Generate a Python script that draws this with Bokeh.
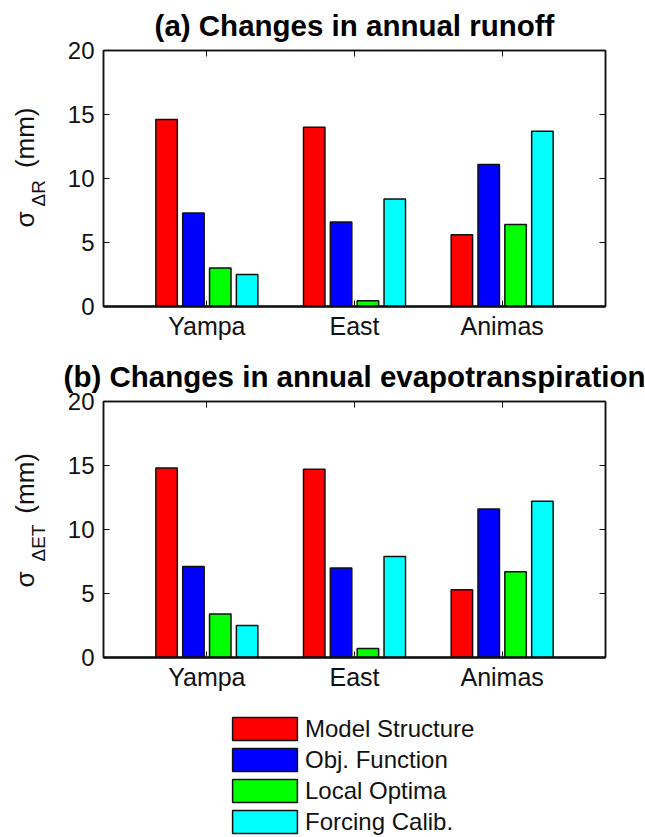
from bokeh.embed import file_html
from bokeh.layouts import column
from bokeh.models import FixedTicker, Legend, LegendItem, LinearAxis, Range1d, Title
from bokeh.plotting import figure
from bokeh.resources import INLINE

# Basins and uncertainty sources
basins = ["Yampa", "East", "Animas"]
sources = ["Model Structure", "Obj. Function", "Local Optima", "Forcing Calib."]
colors = ["#FF0000", "#0000FF", "#00FF00", "#00FFFF"]
y_ticks = [0, 5, 10, 15, 20]

# (a) standard deviation of change in annual runoff (mm)
runoff_model_structure = [14.6, 14.0, 5.6]
runoff_obj_function = [7.3, 6.6, 11.1]
runoff_local_optima = [3.0, 0.45, 6.4]
runoff_forcing_calib = [2.5, 8.4, 13.7]

# (b) standard deviation of change in annual evapotranspiration (mm)
et_model_structure = [14.8, 14.7, 5.3]
et_obj_function = [7.1, 7.0, 11.6]
et_local_optima = [3.4, 0.7, 6.7]
et_forcing_calib = [2.5, 7.9, 12.2]

FONT = "Liberation Sans"
INK = "#111111"
NBSP = "\u00a0"

X_MIN, X_MAX = 0.3, 3.7
Y_MIN, Y_MAX = 0, 20
FRAME_W, FRAME_H = 502, 256
BORDER_L, BORDER_R = 103, 40

# grouped-bar geometry (4 bars per group)
n_series = len(sources)
group_w = min(0.8, n_series / (n_series + 1.5))
bar_step = group_w / n_series
bar_w = 0.8 * bar_step
offsets = [(k - (n_series - 1) / 2) * bar_step for k in range(n_series)]
group_x = list(range(1, len(basins) + 1))


def add_bars(p, series, **kw):
    rs = []
    for k, vals in enumerate(series):
        xs = [g + offsets[k] for g in group_x]
        rs.append(p.vbar(x=xs, top=vals, bottom=0, width=bar_w,
                         fill_color=colors[k], line_color=INK, line_width=1.5, **kw))
    return rs


def make_panel(title, series, sub, border_top, border_bottom, title_gap, ylab):
    p = figure(
        frame_width=FRAME_W, frame_height=FRAME_H,
        min_border_left=BORDER_L, min_border_right=BORDER_R,
        min_border_top=border_top, min_border_bottom=border_bottom,
        x_range=Range1d(X_MIN, X_MAX), y_range=Range1d(Y_MIN, Y_MAX),
        output_backend="svg", toolbar_location=None,
    )
    p.background_fill_color = "white"
    p.border_fill_color = "white"
    p.xgrid.visible = False
    p.ygrid.visible = False
    p.outline_line_color = INK
    p.outline_line_width = 1.5

    p.title.text = title
    p.title.align = "center"
    p.title.vertical_align = "top"
    p.title.text_font = FONT
    p.title.text_font_size = "29.5px"
    p.title.text_font_style = "bold"
    p.title.text_color = "black"
    p.title.standoff = title_gap

    xt = FixedTicker(ticks=group_x)
    yt = FixedTicker(ticks=y_ticks)

    xa = p.xaxis[0]
    xa.ticker = xt
    xa.major_label_overrides = {i: b for i, b in zip(group_x, basins)}
    ya = p.yaxis[0]
    ya.ticker = yt
    for ax in (xa, ya):
        ax.major_tick_in = 6
        ax.major_tick_out = 0
        ax.minor_tick_line_color = None
        ax.major_tick_line_color = INK
        ax.axis_line_color = INK
        ax.axis_line_width = 1.5
        ax.major_label_text_font = FONT
        ax.major_label_text_color = INK
    xa.major_label_text_font_size = "25px"
    ya.major_label_text_font_size = "24px"
    xa.axis_line_width = 2.5
    xa.major_label_standoff = 5
    ya.major_label_standoff = 9

    # box ticks on top and right, no labels
    top_ax = LinearAxis(ticker=xt, major_label_overrides={i: "" for i in group_x})
    right_ax = LinearAxis(ticker=yt, major_label_overrides={v: "" for v in y_ticks})
    for ax in (top_ax, right_ax):
        ax.major_tick_in = 6
        ax.major_tick_out = 0
        ax.minor_tick_line_color = None
        ax.major_tick_line_color = INK
        ax.axis_line_color = INK
        ax.axis_line_width = 1.5
        ax.major_label_standoff = 0
    p.add_layout(top_ax, "above")
    p.add_layout(right_ax, "right")

    add_bars(p, series)

    # y-axis label: subscript column next to the ticks, then sigma + units
    gap, off_sigma, off_sub = ylab
    p.add_layout(Title(text=sub, align="left", offset=off_sub, standoff=32,
                       text_font=FONT, text_font_size="19px",
                       text_font_style="normal", text_color=INK), "left")
    p.add_layout(Title(text="σ" + NBSP * gap + "(mm)", align="left", offset=off_sigma,
                       standoff=-61, text_font=FONT, text_font_size="26px",
                       text_font_style="normal", text_color=INK), "left")
    return p


runoff_series = [runoff_model_structure, runoff_obj_function,
                 runoff_local_optima, runoff_forcing_calib]
et_series = [et_model_structure, et_obj_function, et_local_optima, et_forcing_calib]

p_a = make_panel("(a) Changes in annual runoff", runoff_series,
                 "ΔR", 50, 46, 14, (6, 79, 100))
p_b = make_panel("(b) Changes in annual evapotranspiration", et_series,
                 "ΔET", 49, 47, 13, (8, 70, 96))

# legend strip: hidden copies of the (b) bars supply the swatches
p_leg = figure(
    frame_width=FRAME_W, frame_height=133,
    min_border_left=BORDER_L, min_border_right=BORDER_R,
    min_border_top=0, min_border_bottom=0,
    x_range=Range1d(X_MIN, X_MAX), y_range=Range1d(Y_MIN, Y_MAX),
    x_axis_location=None, y_axis_location=None,
    output_backend="svg", toolbar_location=None,
)
p_leg.xgrid.visible = False
p_leg.ygrid.visible = False
p_leg.outline_line_color = None
swatches = add_bars(p_leg, et_series, visible=False)
legend = Legend(
    items=[LegendItem(label=s, renderers=[r]) for s, r in zip(sources, swatches)],
    location=(121, 1), orientation="vertical",
    glyph_width=81, glyph_height=29, spacing=2, label_standoff=0,
    label_text_font=FONT, label_text_font_size="24px", label_text_color=INK,
    border_line_color=None, background_fill_alpha=0, margin=0, padding=0,
    inactive_fill_alpha=0,
)
p_leg.add_layout(legend)

layout = column(p_a, p_b, p_leg, spacing=0)

with open("out.html", "w") as f:
    f.write(file_html(layout, INLINE))
